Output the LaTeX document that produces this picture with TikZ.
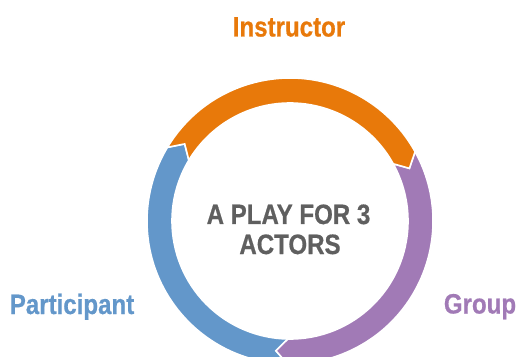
\documentclass[tikz,border=0pt]{standalone}
\usepackage{fontspec}
\newfontfamily\condfont[FakeStretch=0.86, UprightFont={* Bold}, FakeBold=0.6]{Liberation Sans}
\definecolor{actorOrange}{RGB}{232,121,10}
\definecolor{actorBlue}{RGB}{99,151,202}
\definecolor{actorPurple}{RGB}{161,122,182}
\definecolor{titleGray}{RGB}{95,95,95}
% ring radii and the angular depth of heads and notches
\def\Ro{143}
\def\Ri{118}
\def\Rm{130.5}
\def\Dp{5.2}
% \cyclearrow{colour}{tail angle}{head angle}: clockwise ring arrow
\newcommand{\cyclearrow}[3]{%
  \pgfmathsetmacro{\tipA}{#3-\Dp}%
  \pgfmathsetmacro{\notchA}{#2-\Dp}%
  \fill[#1, draw=white, line width=1.6pt, line join=miter]
    (#2:\Ro) arc[start angle=#2, end angle=#3, radius=\Ro]
    -- (\tipA:\Rm) -- (#3:\Ri)
    arc[start angle=#3, end angle=#2, radius=\Ri]
    -- (\notchA:\Rm) -- cycle;}
\tikzset{
  label text/.style={font=\condfont\fontsize{28}{30}\selectfont, anchor=base, inner sep=0pt},
  title text/.style={font=\condfont\fontsize{28}{30}\selectfont, text=titleGray, align=center, inner sep=0pt}
}
\begin{document}
\begin{tikzpicture}[x=1pt, y=1pt]
  \useasboundingbox (0,0) rectangle (518,356);
  \clip (0,0) rectangle (518,356);
  \fill[white] (0,0) rectangle (518,356);
  \begin{scope}[shift={(290,135)}]
    \cyclearrow{actorBlue}{269}{149}
    \cyclearrow{actorPurple}{29}{-91}
    \cyclearrow{actorOrange}{149}{29}
  \end{scope}
  \node[title text, anchor=base] (title1) at (288.5,132) {A PLAY FOR 3};
  \node[title text, anchor=base] (title2) at (290,102) {ACTORS};
  \node[label text, text=actorOrange] (instructor) at (289,319.5) {Instructor};
  \node[label text, text=actorBlue] (participant) at (72,42) {Participant};
  \node[label text, text=actorPurple] (group) at (480,42.5) {Group};
\end{tikzpicture}
\end{document}
